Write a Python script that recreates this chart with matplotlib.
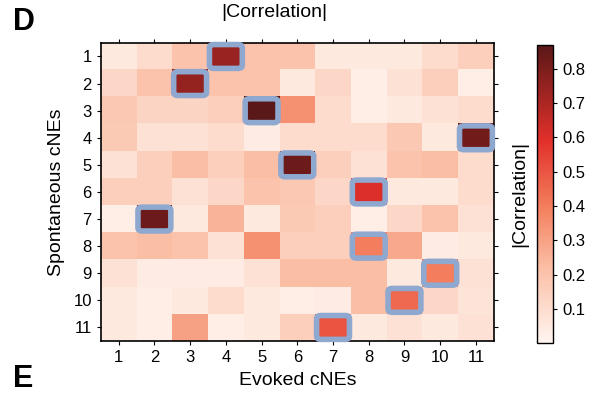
import matplotlib.pyplot as plt
import numpy as np
from matplotlib.colors import LinearSegmentedColormap
from matplotlib.patches import FancyBboxPatch

plt.rcParams['font.family'] = ['Liberation Sans', 'DejaVu Sans']

# |correlation| between spontaneous (rows) and evoked (columns) cNEs
fila1 = [0.05, 0.10, 0.20, 0.74, 0.20, 0.20, 0.05, 0.05, 0.05, 0.10, 0.15]
fila2 = [0.12, 0.20, 0.75, 0.20, 0.20, 0.05, 0.12, 0.03, 0.08, 0.15, 0.03]
fila3 = [0.18, 0.13, 0.13, 0.15, 0.87, 0.35, 0.10, 0.03, 0.05, 0.08, 0.10]
fila4 = [0.17, 0.08, 0.08, 0.10, 0.04, 0.10, 0.10, 0.10, 0.18, 0.05, 0.82]
fila5 = [0.08, 0.15, 0.22, 0.15, 0.22, 0.83, 0.15, 0.08, 0.20, 0.22, 0.10]
fila6 = [0.15, 0.15, 0.08, 0.12, 0.20, 0.18, 0.12, 0.60, 0.05, 0.05, 0.10]
fila7 = [0.03, 0.83, 0.05, 0.25, 0.05, 0.17, 0.15, 0.03, 0.12, 0.20, 0.08]
fila8 = [0.20, 0.22, 0.20, 0.08, 0.35, 0.15, 0.15, 0.40, 0.28, 0.04, 0.05]
fila9 = [0.08, 0.04, 0.04, 0.04, 0.08, 0.22, 0.22, 0.22, 0.05, 0.40, 0.08]
fila10 = [0.05, 0.03, 0.05, 0.10, 0.05, 0.03, 0.04, 0.22, 0.45, 0.12, 0.07]
fila11 = [0.05, 0.03, 0.30, 0.03, 0.05, 0.15, 0.50, 0.05, 0.08, 0.05, 0.08]

# pares emparejados (fila, columna), base 1
pares = [(1, 4), (2, 3), (3, 5), (4, 11), (5, 6), (6, 8),
         (7, 2), (8, 8), (9, 10), (10, 9), (11, 7)]

etiquetas = [str(i) for i in range(1, 12)]

matriz = np.array([fila1, fila2, fila3, fila4, fila5, fila6,
                   fila7, fila8, fila9, fila10, fila11])

mapa = LinearSegmentedColormap.from_list(
    'rojos', [(0.0, '#fff5f0'), (0.25, '#fbbfa6'), (0.45, '#f4815f'),
              (0.68, '#e2302a'), (1.0, '#5a1818')])

fig = plt.figure(figsize=(6, 4.05), dpi=100)
ax = fig.add_axes([0.168, 0.158, 0.655, 0.736])
cax = fig.add_axes([0.895, 0.153, 0.027, 0.736])

im = ax.imshow(matriz, cmap=mapa, vmin=0, vmax=0.87, aspect='auto',
               interpolation='nearest')

# recuadros azules sobre los pares emparejados
for f, c in pares:
    caja = FancyBboxPatch((c - 1.5 + 0.06, f - 1.5 + 0.08), 0.88, 0.84,
                          boxstyle='round,pad=0.02,rounding_size=0.12',
                          fill=False, edgecolor='#8fa8d0', linewidth=4,
                          zorder=3, clip_on=False)
    ax.add_patch(caja)

ax.set_xticks(range(11))
ax.set_xticklabels(etiquetas, fontsize=12)
ax.set_yticks(range(11))
ax.set_yticklabels(etiquetas, fontsize=12)
ax.tick_params(top=True, right=True, direction='out', length=3, width=0.8)
for s in ax.spines.values():
    s.set_linewidth(1.2)
ax.set_xlabel('Evoked cNEs', fontsize=14, labelpad=5)
ax.set_ylabel('Spontaneous cNEs', fontsize=14, labelpad=6)

cb = fig.colorbar(im, cax=cax, ticks=[0.1, 0.2, 0.3, 0.4, 0.5, 0.6, 0.7, 0.8])
cb.ax.tick_params(labelsize=12, length=3, width=0.8)
cb.outline.set_linewidth(1.0)
cb.ax.yaxis.set_label_position('left')
cb.set_label('|Correlation|', fontsize=14, labelpad=6)

fig.text(0.458, 0.958, '|Correlation|', fontsize=14, ha='center', va='baseline')
fig.text(0.022, 0.945, 'D', fontsize=22, fontweight='bold', va='center')
fig.text(0.022, 0.065, 'E', fontsize=22, fontweight='bold', va='center')

fig.savefig('out.png', dpi=100)
